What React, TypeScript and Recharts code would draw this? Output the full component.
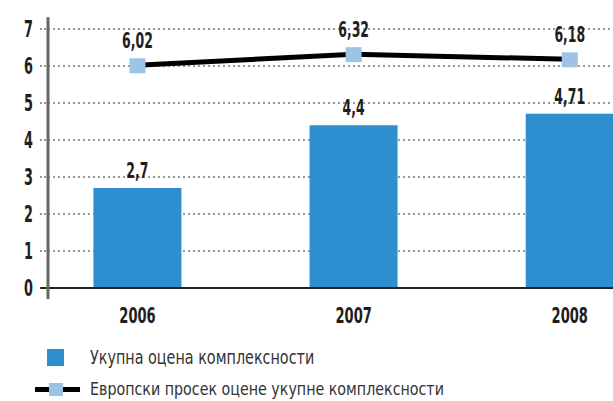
import React from "react"
import { ComposedChart, Bar, Line, XAxis, YAxis, CartesianGrid, LabelList, ReferenceLine } from "recharts"

const years = ["2006", "2007", "2008"]
const totalScore = [2.7, 4.4, 4.71]
const europeAvg = [6.02, 6.32, 6.18]
const yTicks = [0, 1, 2, 3, 4, 5, 6, 7]

const data = years.map((y, i) => ({ x: i, year: y, total: totalScore[i], avg: europeAvg[i] }))

const FONT = "'DejaVu Sans Condensed', 'DejaVu Sans', sans-serif"
const BAR = "#2b8fd0"
const MARK = "#9dc3e6"
const INK = "#1e1e1e"

const fmt = (v: any) => String(v).replace(".", ",")

// narrow text, the source uses a very condensed face
function NarrowText({ x, y, text, anchor = "middle", size = 21, sx = 0.66, weight = 700 }: any) {
  return (
    <text
      transform={`translate(${x},${y}) scale(${sx},1)`}
      textAnchor={anchor}
      fill={INK}
      fontSize={size}
      fontWeight={weight}
      fontFamily={FONT}
    >
      {text}
    </text>
  )
}

const YTick = (props: any) => {
  const { x, y, payload } = props
  return <NarrowText x={x} y={y + 8} text={payload.value} anchor="end" size={23} sx={0.62} />
}

const XTick = (props: any) => {
  const { x, y, payload } = props
  return <NarrowText x={x} y={y + 31} text={years[payload.value]} size={22} />
}

const barLabel = (props: any) => {
  const { x, y, width, value } = props
  return <NarrowText x={x + width / 2} y={y - 10} text={fmt(value)} size={21} />
}

const lineLabel = (props: any) => {
  const { x, y, value } = props
  return <NarrowText x={x} y={y - 17} text={fmt(value)} size={21} />
}

const SquareDot = (props: any) => {
  const { cx, cy, index } = props
  if (cx == null || cy == null) return <g key={index} />
  return <rect key={index} x={cx - 8} y={cy - 7} width={16} height={15} fill={MARK} />
}

const legendRow: React.CSSProperties = {
  position: "absolute",
  display: "flex",
  alignItems: "center",
  fontFamily: FONT,
  fontSize: 19,
  lineHeight: "20px",
  color: "#333",
}

const legendText: React.CSSProperties = {
  display: "inline-block",
  transform: "scaleX(0.84)",
  transformOrigin: "left center",
  whiteSpace: "nowrap",
}

export default function App() {
  return (
    <div style={{ position: "absolute", left: 0, top: 0, width: 613, height: 401, overflow: "hidden", background: "#fff" }}>
      <ComposedChart width={613} height={401} data={data} margin={{ top: 29, right: 0, bottom: 83, left: 8 }}>
        <CartesianGrid horizontal vertical={false} stroke="#333" strokeDasharray="2 3" />
        <XAxis
          dataKey="x"
          type="number"
          domain={[-0.414, 2.2]}
          ticks={[0, 1, 2]}
          allowDataOverflow
          axisLine={false}
          tickLine={false}
          tickSize={0}
          tickMargin={4}
          height={30}
          tick={XTick}
        />
        <YAxis
          domain={[0, 7]}
          ticks={yTicks}
          width={40}
          axisLine={false}
          tickLine={{ stroke: "#333", strokeDasharray: "2 2" }}
          tickSize={8}
          tickMargin={7}
          tick={YTick}
        />
        <ReferenceLine segment={[{ x: -0.45, y: 0 }, { x: 2.2, y: 0 }]} stroke="#222" strokeWidth={2} ifOverflow="visible" />
        <ReferenceLine segment={[{ x: -0.414, y: -0.3 }, { x: -0.414, y: 7.32 }]} stroke="#666" strokeWidth={3} ifOverflow="visible" />
        <Bar dataKey="total" fill={BAR} barSize={88} isAnimationActive={false}>
          <LabelList dataKey="total" content={barLabel} />
        </Bar>
        <Line dataKey="avg" stroke="#000" strokeWidth={5} dot={SquareDot} activeDot={false} isAnimationActive={false}>
          <LabelList dataKey="avg" content={lineLabel} />
        </Line>
      </ComposedChart>
      <div style={{ ...legendRow, left: 47, top: 347 }}>
        <span style={{ display: "inline-block", width: 17, height: 17, background: BAR, marginRight: 26 }} />
        <span style={legendText}>Укупна оцена комплексности</span>
      </div>
      <div style={{ ...legendRow, left: 35, top: 379, fontSize: 18 }}>
        <span style={{ position: "relative", display: "inline-block", width: 45, height: 13, marginRight: 10 }}>
          <span style={{ position: "absolute", left: 0, top: 4, width: 45, height: 5, background: "#000" }} />
          <span style={{ position: "absolute", left: 14, top: 0, width: 14, height: 13, background: MARK }} />
        </span>
        <span style={{ ...legendText, transform: "scaleX(0.88)" }}>Европски просек оцене укупне комплексности</span>
      </div>
    </div>
  )
}
